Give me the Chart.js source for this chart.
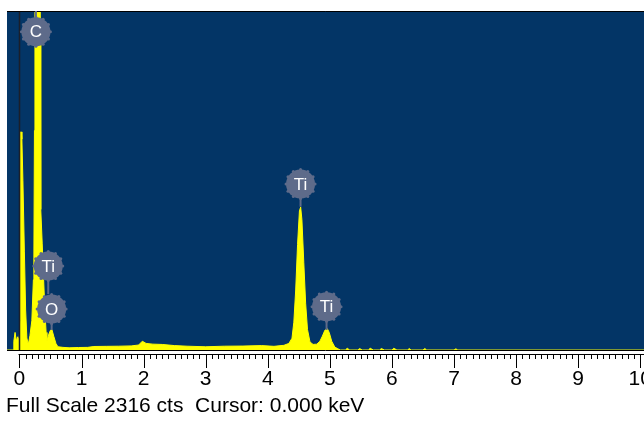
<!DOCTYPE html>
<html lang="en">
<head>
  <meta charset="UTF-8">
  <title>EDS Spectrum</title>
  <script src="https://cdn.jsdelivr.net/npm/chart.js"></script>
  <style>
    html, body { margin: 0; padding: 0; background: #fff; overflow: hidden; }
    .chart-container { position: relative; width: 644px; height: 421px; }
    .status {
      position: absolute; left: 6px; top: 394px;
      font-family: "Liberation Sans", Arial, sans-serif; font-size: 21px; line-height: 21px;
      color: #000; white-space: pre;
    }
  </style>
</head>
<body>
  <div class="chart-container">
    <canvas id="edsChart"></canvas>
    <div class="status">Full Scale 2316 cts  Cursor: 0.000 keV</div>
  </div>

  <script>
    // Spectrum (keV, counts); the C peak runs past full scale
    const energies = [
      -0.20, -0.10, -0.09, -0.07, -0.05, -0.03, -0.01, 0.00, 0.012, 0.019, 0.03, 0.04, 0.056, 0.08, 0.10,
      0.12, 0.137, 0.153, 0.17, 0.20, 0.225, 0.233, 0.242, 0.25, 0.27, 0.30, 0.33, 0.338, 0.344, 0.367,
      0.39, 0.41, 0.43, 0.443, 0.475, 0.50, 0.523, 0.556, 0.588, 0.62, 0.70, 0.80, 0.95, 1.10, 1.20,
      1.40, 1.60, 1.80, 1.92, 1.98, 2.04, 2.15, 2.30, 2.50, 2.70, 3.00, 3.30, 3.60, 3.90, 4.10,
      4.26, 4.34, 4.39, 4.42, 4.45, 4.48, 4.51, 4.53, 4.55, 4.58, 4.61, 4.64, 4.68, 4.73, 4.79,
      4.84, 4.88, 4.92, 4.96, 4.99, 5.03, 5.08, 5.13, 5.17, 5.25, 5.28, 5.32, 5.45, 5.48, 5.52,
      5.62, 5.65, 5.70, 5.80, 5.83, 5.88, 6.00, 6.03, 6.08, 6.25, 6.28, 6.31, 6.50, 6.53, 6.56,
      7.00, 7.03, 7.06, 10.06
    ];
    const counts = [
      0, 0, 60, 120, 60, 90, 70, 100, 200, 1490, 1490, 1440, 1160, 670, 273,
      82, 48, 60, 100, 200, 480, 635, 1500, 2800, 3600, 3500, 2600, 2200, 960, 730,
      480, 273, 120, 60, 110, 135, 140, 90, 45, 22, 18, 15, 17, 18, 24,
      25, 26, 28, 34, 60, 45, 40, 38, 30, 26, 22, 26, 27, 30, 25,
      32, 45, 80, 190, 410, 720, 950, 977, 890, 600, 320, 140, 55, 38, 40,
      60, 95, 135, 145, 120, 60, 20, 8, 0, 0, 12, 0, 0, 10, 0,
      0, 12, 0, 0, 10, 0, 0, 12, 0, 0, 10, 0, 0, 10, 0,
      0, 8, 0, 0
    ];

    // Element markers: centre of the badge and end of its stem (counts)
    const peakNames = ['C', 'Ti', 'O', 'Ti', 'Ti'];
    const peakEnergies = [0.266, 0.464, 0.519, 4.528, 4.947];
    const markerCounts = [2174, 574, 280, 1134, 296];
    const stemEndCounts = [2316, 382, 137, 979, 137];

    const xTickLabels = ['0', '1', '2', '3', '4', '5', '6', '7', '8', '9', '10'];
    const fullScale = 2316;
    const xMin = -0.2, xMax = 10.06;

    const spectrum = energies.map((e, i) => ({ x: e, y: counts[i] }));
    const markerGrey = '#5e6b8a';

    const spectrumFrame = {
      id: 'spectrumFrame',
      beforeDatasetsDraw(chart) {
        const { ctx, chartArea: a } = chart;
        ctx.save();
        ctx.fillStyle = '#033566';
        ctx.fillRect(a.left, a.top, a.right - a.left, a.bottom - a.top);
        ctx.restore();
      },
      afterDatasetsDraw(chart) {
        const { ctx, chartArea: a, scales: { x, y } } = chart;
        ctx.save();

        // cursor at 0 keV
        const x0 = Math.round(x.getPixelForValue(0)) + 0.5;
        ctx.strokeStyle = '#1b1f2a';
        ctx.lineWidth = 1.5;
        ctx.beginPath();
        ctx.moveTo(x0, a.top);
        ctx.lineTo(x0, a.bottom);
        ctx.stroke();

        // frame lines
        ctx.strokeStyle = '#000';
        ctx.lineWidth = 1;
        ctx.beginPath();
        ctx.moveTo(a.left, a.top + 0.5);
        ctx.lineTo(a.right, a.top + 0.5);
        ctx.moveTo(a.left, a.bottom + 0.5);
        ctx.lineTo(a.right, a.bottom + 0.5);
        ctx.moveTo(x0 - 1, a.bottom + 4.5);
        ctx.lineTo(a.right, a.bottom + 4.5);
        ctx.stroke();

        // ticks every 0.1 keV
        ctx.beginPath();
        x.ticks.forEach((t, i) => {
          const px = Math.round(x.getPixelForValue(t.value)) + 0.5;
          const len = i % 10 === 0 ? 13 : 4;
          ctx.moveTo(px, a.bottom + 5);
          ctx.lineTo(px, a.bottom + 5 + len);
        });
        ctx.stroke();

        // element markers
        peakNames.forEach((name, i) => {
          const px = x.getPixelForValue(peakEnergies[i]);
          const py = y.getPixelForValue(markerCounts[i]);
          const sy = y.getPixelForValue(stemEndCounts[i]);
          ctx.fillStyle = markerGrey;
          ctx.strokeStyle = markerGrey;
          ctx.lineWidth = 2;
          ctx.beginPath();
          ctx.moveTo(px, py);
          ctx.lineTo(px, sy);
          ctx.stroke();
          ctx.beginPath();
          ctx.arc(px, py, 14.5, 0, Math.PI * 2);
          ctx.fill();
          for (let k = 0; k < 12; k++) {
            const ang = k * Math.PI / 6;
            ctx.beginPath();
            ctx.arc(px + Math.cos(ang) * 14.5, py + Math.sin(ang) * 14.5, 1.5, 0, Math.PI * 2);
            ctx.fill();
          }
          ctx.fillStyle = '#ffffff';
          ctx.font = '17px "Liberation Sans", Arial, sans-serif';
          ctx.textAlign = 'center';
          ctx.textBaseline = 'middle';
          ctx.fillText(name, px, py + 1);
        });

        ctx.restore();
      }
    };

    const ctx = document.getElementById('edsChart').getContext('2d');
    const edsChart = new Chart(ctx, {
      type: 'line',
      data: {
        datasets: [{
          data: spectrum,
          borderColor: '#ffff00',
          backgroundColor: '#ffff00',
          borderWidth: 1,
          pointRadius: 0,
          fill: 'origin',
          tension: 0
        }]
      },
      options: {
        responsive: true,
        maintainAspectRatio: false,
        animation: false,
        layout: { padding: { top: 11, left: 7, right: 0, bottom: 31 } },
        scales: {
          x: {
            type: 'linear',
            min: xMin,
            max: xMax,
            grid: { display: false, drawTicks: false },
            border: { display: false },
            afterBuildTicks: (scale) => {
              const ticks = [];
              for (let i = 0; i <= 100; i++) ticks.push({ value: i / 10 });
              scale.ticks = ticks;
            },
            ticks: {
              autoSkip: false,
              maxRotation: 0,
              padding: 17,
              color: '#000',
              font: { family: '"Liberation Sans", Arial, sans-serif', size: 21 },
              callback: (v, i) => (i % 10 === 0 ? xTickLabels[i / 10] : '')
            },
            afterFit: (scale) => {
              scale.height = 40;
              scale.paddingLeft = 0;
              scale.paddingRight = 0;
            }
          },
          y: {
            display: false,
            min: 0,
            max: fullScale
          }
        },
        plugins: {
          legend: { display: false },
          tooltip: { enabled: false }
        }
      },
      plugins: [spectrumFrame]
    });
  </script>
</body>
</html>
